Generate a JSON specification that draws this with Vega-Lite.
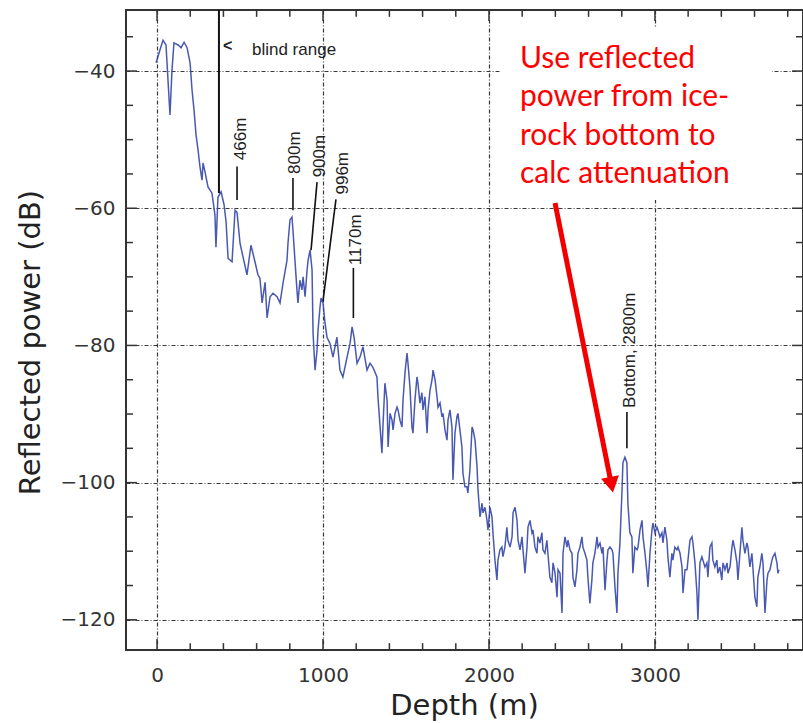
{
  "$schema": "https://vega.github.io/schema/vega-lite/v6.json",
  "width": 677,
  "height": 640,
  "autosize": {"type": "none"},
  "padding": {"left": 126, "top": 10, "right": 0, "bottom": 73},
  "background": "white",
  "config": {
    "view": {"stroke": "#333", "strokeWidth": 2},
    "axis": {"domain": false, "ticks": false, "labelFlush": false, "labelOverlap": false}
  },
  "datasets": {
    "trace": [
      {"d": -6, "p": -38.8}, {"d": 18, "p": -36.9}, {"d": 36, "p": -35.5}, {"d": 54, "p": -36.2}, {"d": 66, "p": -41.3},
      {"d": 78, "p": -46.4}, {"d": 90, "p": -39.9}, {"d": 102, "p": -35.9}, {"d": 127, "p": -36.2}, {"d": 145, "p": -36.6},
      {"d": 163, "p": -35.8}, {"d": 181, "p": -36.6}, {"d": 199, "p": -38.8}, {"d": 211, "p": -42.8}, {"d": 223, "p": -45.7},
      {"d": 235, "p": -49.3}, {"d": 247, "p": -51.5}, {"d": 259, "p": -54.0}, {"d": 271, "p": -55.9}, {"d": 277, "p": -53.4},
      {"d": 289, "p": -54.7}, {"d": 307, "p": -56.9}, {"d": 331, "p": -57.8}, {"d": 349, "p": -61.0}, {"d": 355, "p": -65.7},
      {"d": 367, "p": -58.4}, {"d": 386, "p": -57.6}, {"d": 404, "p": -59.5}, {"d": 416, "p": -62.0}, {"d": 428, "p": -67.3},
      {"d": 452, "p": -67.8}, {"d": 470, "p": -60.3}, {"d": 482, "p": -60.6}, {"d": 500, "p": -65.1}, {"d": 518, "p": -67.1},
      {"d": 542, "p": -69.7}, {"d": 566, "p": -65.4}, {"d": 590, "p": -67.8}, {"d": 608, "p": -69.7}, {"d": 620, "p": -70.2},
      {"d": 633, "p": -73.8}, {"d": 651, "p": -70.8}, {"d": 663, "p": -76.0}, {"d": 681, "p": -72.9}, {"d": 699, "p": -72.4},
      {"d": 723, "p": -72.9}, {"d": 741, "p": -73.8}, {"d": 753, "p": -71.9}, {"d": 759, "p": -70.9}, {"d": 783, "p": -67.6},
      {"d": 789, "p": -65.1}, {"d": 801, "p": -61.7}, {"d": 813, "p": -61.3}, {"d": 819, "p": -63.2}, {"d": 831, "p": -67.6},
      {"d": 843, "p": -71.9}, {"d": 849, "p": -73.8}, {"d": 861, "p": -70.5}, {"d": 873, "p": -71.9}, {"d": 880, "p": -70.0},
      {"d": 892, "p": -72.9}, {"d": 904, "p": -69.0}, {"d": 910, "p": -67.6}, {"d": 922, "p": -66.1}, {"d": 934, "p": -69.0},
      {"d": 940, "p": -78.2}, {"d": 952, "p": -83.6}, {"d": 964, "p": -80.7}, {"d": 970, "p": -77.8}, {"d": 982, "p": -74.4},
      {"d": 988, "p": -73.1}, {"d": 1000, "p": -73.8}, {"d": 1012, "p": -76.7}, {"d": 1024, "p": -78.8}, {"d": 1042, "p": -79.7},
      {"d": 1060, "p": -81.7}, {"d": 1084, "p": -78.8}, {"d": 1102, "p": -83.6}, {"d": 1120, "p": -84.6}, {"d": 1145, "p": -81.7},
      {"d": 1163, "p": -79.7}, {"d": 1175, "p": -77.3}, {"d": 1187, "p": -78.8}, {"d": 1205, "p": -82.6}, {"d": 1223, "p": -81.7},
      {"d": 1241, "p": -80.2}, {"d": 1265, "p": -83.6}, {"d": 1283, "p": -82.6}, {"d": 1301, "p": -83.2}, {"d": 1325, "p": -84.6},
      {"d": 1331, "p": -87.5}, {"d": 1355, "p": -95.7}, {"d": 1361, "p": -91.9}, {"d": 1373, "p": -85.5}, {"d": 1386, "p": -88.0},
      {"d": 1392, "p": -94.8}, {"d": 1404, "p": -89.9}, {"d": 1416, "p": -90.9}, {"d": 1422, "p": -92.3}, {"d": 1434, "p": -89.9},
      {"d": 1446, "p": -89.0}, {"d": 1452, "p": -89.4}, {"d": 1464, "p": -90.9}, {"d": 1476, "p": -91.9}, {"d": 1482, "p": -88.0},
      {"d": 1494, "p": -84.0}, {"d": 1506, "p": -81.1}, {"d": 1512, "p": -82.6}, {"d": 1524, "p": -86.1}, {"d": 1536, "p": -91.9},
      {"d": 1542, "p": -92.8}, {"d": 1554, "p": -88.0}, {"d": 1566, "p": -84.6}, {"d": 1572, "p": -85.5}, {"d": 1584, "p": -88.4},
      {"d": 1596, "p": -86.9}, {"d": 1602, "p": -89.4}, {"d": 1614, "p": -87.5}, {"d": 1627, "p": -92.8}, {"d": 1633, "p": -89.4},
      {"d": 1645, "p": -86.5}, {"d": 1657, "p": -85.0}, {"d": 1663, "p": -83.6}, {"d": 1675, "p": -85.0}, {"d": 1687, "p": -87.5},
      {"d": 1693, "p": -89.0}, {"d": 1705, "p": -88.4}, {"d": 1717, "p": -90.4}, {"d": 1723, "p": -89.9}, {"d": 1735, "p": -92.3},
      {"d": 1747, "p": -93.8}, {"d": 1753, "p": -90.9}, {"d": 1765, "p": -89.4}, {"d": 1777, "p": -91.9}, {"d": 1783, "p": -99.6},
      {"d": 1795, "p": -92.8}, {"d": 1807, "p": -90.4}, {"d": 1813, "p": -89.9}, {"d": 1825, "p": -92.3}, {"d": 1837, "p": -94.8},
      {"d": 1843, "p": -98.6}, {"d": 1855, "p": -100.6}, {"d": 1867, "p": -100.6}, {"d": 1873, "p": -101.5}, {"d": 1885, "p": -98.2},
      {"d": 1898, "p": -91.9}, {"d": 1904, "p": -92.3}, {"d": 1916, "p": -93.8}, {"d": 1928, "p": -97.7}, {"d": 1934, "p": -101.1},
      {"d": 1946, "p": -105.0}, {"d": 1958, "p": -103.0}, {"d": 1964, "p": -104.4}, {"d": 1976, "p": -103.6}, {"d": 1988, "p": -105.5},
      {"d": 1994, "p": -106.9}, {"d": 2006, "p": -103.6}, {"d": 2018, "p": -105.0}, {"d": 2024, "p": -107.3}, {"d": 2036, "p": -111.3},
      {"d": 2048, "p": -114.2}, {"d": 2054, "p": -111.3}, {"d": 2066, "p": -109.8}, {"d": 2078, "p": -109.4}, {"d": 2084, "p": -110.8},
      {"d": 2096, "p": -109.4}, {"d": 2108, "p": -106.5}, {"d": 2114, "p": -108.4}, {"d": 2127, "p": -109.4}, {"d": 2139, "p": -107.9},
      {"d": 2145, "p": -104.4}, {"d": 2157, "p": -103.6}, {"d": 2169, "p": -105.5}, {"d": 2175, "p": -108.4}, {"d": 2187, "p": -109.8},
      {"d": 2199, "p": -107.9}, {"d": 2205, "p": -109.8}, {"d": 2217, "p": -113.2}, {"d": 2229, "p": -109.4}, {"d": 2235, "p": -106.5},
      {"d": 2247, "p": -105.5}, {"d": 2259, "p": -107.3}, {"d": 2265, "p": -106.9}, {"d": 2277, "p": -109.4}, {"d": 2289, "p": -110.3},
      {"d": 2295, "p": -107.9}, {"d": 2307, "p": -108.8}, {"d": 2319, "p": -107.3}, {"d": 2325, "p": -109.8}, {"d": 2337, "p": -110.3},
      {"d": 2349, "p": -108.4}, {"d": 2355, "p": -110.3}, {"d": 2367, "p": -113.8}, {"d": 2379, "p": -114.6}, {"d": 2386, "p": -111.7},
      {"d": 2398, "p": -113.2}, {"d": 2410, "p": -116.7}, {"d": 2416, "p": -112.7}, {"d": 2428, "p": -113.2}, {"d": 2440, "p": -119.0},
      {"d": 2446, "p": -110.3}, {"d": 2458, "p": -107.9}, {"d": 2470, "p": -109.4}, {"d": 2476, "p": -108.4}, {"d": 2488, "p": -109.8},
      {"d": 2500, "p": -110.3}, {"d": 2506, "p": -113.8}, {"d": 2518, "p": -115.2}, {"d": 2530, "p": -112.7}, {"d": 2536, "p": -110.3},
      {"d": 2548, "p": -109.4}, {"d": 2560, "p": -107.9}, {"d": 2566, "p": -109.4}, {"d": 2578, "p": -110.3}, {"d": 2590, "p": -111.3},
      {"d": 2596, "p": -113.8}, {"d": 2608, "p": -117.6}, {"d": 2620, "p": -114.2}, {"d": 2626, "p": -111.7}, {"d": 2638, "p": -110.3},
      {"d": 2651, "p": -107.9}, {"d": 2657, "p": -109.4}, {"d": 2669, "p": -108.8}, {"d": 2681, "p": -110.3}, {"d": 2687, "p": -109.4},
      {"d": 2699, "p": -115.7}, {"d": 2711, "p": -111.3}, {"d": 2717, "p": -109.8}, {"d": 2729, "p": -109.4}, {"d": 2741, "p": -109.8},
      {"d": 2747, "p": -110.3}, {"d": 2759, "p": -115.2}, {"d": 2771, "p": -119.0}, {"d": 2777, "p": -113.2}, {"d": 2789, "p": -108.8},
      {"d": 2801, "p": -101.5}, {"d": 2807, "p": -97.1}, {"d": 2819, "p": -96.3}, {"d": 2831, "p": -97.1}, {"d": 2837, "p": -103.0},
      {"d": 2849, "p": -107.3}, {"d": 2861, "p": -107.9}, {"d": 2867, "p": -113.2}, {"d": 2879, "p": -109.4}, {"d": 2892, "p": -109.8},
      {"d": 2898, "p": -109.4}, {"d": 2910, "p": -106.9}, {"d": 2922, "p": -105.5}, {"d": 2928, "p": -107.9}, {"d": 2940, "p": -110.3},
      {"d": 2952, "p": -113.2}, {"d": 2958, "p": -115.2}, {"d": 2970, "p": -110.3}, {"d": 2982, "p": -106.9}, {"d": 2988, "p": -105.9},
      {"d": 3000, "p": -107.3}, {"d": 3012, "p": -106.5}, {"d": 3018, "p": -106.9}, {"d": 3030, "p": -107.9}, {"d": 3042, "p": -107.3},
      {"d": 3048, "p": -108.8}, {"d": 3060, "p": -106.5}, {"d": 3072, "p": -108.4}, {"d": 3078, "p": -110.8}, {"d": 3090, "p": -113.8},
      {"d": 3102, "p": -110.3}, {"d": 3108, "p": -111.3}, {"d": 3120, "p": -109.4}, {"d": 3132, "p": -109.8}, {"d": 3139, "p": -109.4},
      {"d": 3151, "p": -110.3}, {"d": 3163, "p": -112.3}, {"d": 3169, "p": -116.1}, {"d": 3181, "p": -112.7}, {"d": 3193, "p": -112.7},
      {"d": 3199, "p": -111.3}, {"d": 3211, "p": -108.4}, {"d": 3223, "p": -107.9}, {"d": 3229, "p": -108.8}, {"d": 3241, "p": -111.7},
      {"d": 3253, "p": -116.1}, {"d": 3259, "p": -120.0}, {"d": 3271, "p": -111.7}, {"d": 3283, "p": -110.8}, {"d": 3289, "p": -111.3},
      {"d": 3301, "p": -112.3}, {"d": 3313, "p": -111.7}, {"d": 3319, "p": -113.8}, {"d": 3331, "p": -109.4}, {"d": 3343, "p": -108.8},
      {"d": 3349, "p": -111.3}, {"d": 3361, "p": -112.3}, {"d": 3373, "p": -111.3}, {"d": 3379, "p": -113.2}, {"d": 3391, "p": -112.3},
      {"d": 3403, "p": -114.2}, {"d": 3410, "p": -111.7}, {"d": 3422, "p": -112.7}, {"d": 3434, "p": -111.7}, {"d": 3440, "p": -113.2},
      {"d": 3452, "p": -112.3}, {"d": 3464, "p": -109.4}, {"d": 3470, "p": -108.4}, {"d": 3482, "p": -109.8}, {"d": 3494, "p": -111.7},
      {"d": 3500, "p": -114.2}, {"d": 3512, "p": -110.3}, {"d": 3524, "p": -106.5}, {"d": 3530, "p": -108.4}, {"d": 3542, "p": -110.3},
      {"d": 3554, "p": -108.8}, {"d": 3560, "p": -109.4}, {"d": 3572, "p": -112.3}, {"d": 3584, "p": -110.3}, {"d": 3590, "p": -112.3},
      {"d": 3602, "p": -116.7}, {"d": 3614, "p": -118.1}, {"d": 3620, "p": -113.8}, {"d": 3632, "p": -112.3}, {"d": 3644, "p": -110.3},
      {"d": 3651, "p": -111.7}, {"d": 3663, "p": -119.0}, {"d": 3675, "p": -114.2}, {"d": 3681, "p": -113.2}, {"d": 3693, "p": -112.7},
      {"d": 3705, "p": -111.3}, {"d": 3711, "p": -110.8}, {"d": 3723, "p": -110.3}, {"d": 3735, "p": -111.7}, {"d": 3741, "p": -113.2},
      {"d": 3747, "p": -112.7}
    ],
    "frameTicks": [
      {"d": 0, "d2": 0, "p": -124.4, "p2": -122.8}, {"d": 200, "d2": 200, "p": -124.4, "p2": -123.4}, {"d": 400, "d2": 400, "p": -124.4, "p2": -123.4},
      {"d": 600, "d2": 600, "p": -124.4, "p2": -123.4}, {"d": 800, "d2": 800, "p": -124.4, "p2": -123.4}, {"d": 1000, "d2": 1000, "p": -124.4, "p2": -122.8},
      {"d": 1200, "d2": 1200, "p": -124.4, "p2": -123.4}, {"d": 1400, "d2": 1400, "p": -124.4, "p2": -123.4}, {"d": 1600, "d2": 1600, "p": -124.4, "p2": -123.4},
      {"d": 1800, "d2": 1800, "p": -124.4, "p2": -123.4}, {"d": 2000, "d2": 2000, "p": -124.4, "p2": -122.8}, {"d": 2200, "d2": 2200, "p": -124.4, "p2": -123.4},
      {"d": 2400, "d2": 2400, "p": -124.4, "p2": -123.4}, {"d": 2600, "d2": 2600, "p": -124.4, "p2": -123.4}, {"d": 2800, "d2": 2800, "p": -124.4, "p2": -123.4},
      {"d": 3000, "d2": 3000, "p": -124.4, "p2": -122.8}, {"d": 3200, "d2": 3200, "p": -124.4, "p2": -123.4}, {"d": 3400, "d2": 3400, "p": -124.4, "p2": -123.4},
      {"d": 3600, "d2": 3600, "p": -124.4, "p2": -123.4}, {"d": 3800, "d2": 3800, "p": -124.4, "p2": -123.4},
      {"d": 0, "d2": 0, "p": -31.1, "p2": -32.7}, {"d": 200, "d2": 200, "p": -31.1, "p2": -32.1}, {"d": 400, "d2": 400, "p": -31.1, "p2": -32.1},
      {"d": 600, "d2": 600, "p": -31.1, "p2": -32.1}, {"d": 800, "d2": 800, "p": -31.1, "p2": -32.1}, {"d": 1000, "d2": 1000, "p": -31.1, "p2": -32.7},
      {"d": 1200, "d2": 1200, "p": -31.1, "p2": -32.1}, {"d": 1400, "d2": 1400, "p": -31.1, "p2": -32.1}, {"d": 1600, "d2": 1600, "p": -31.1, "p2": -32.1},
      {"d": 1800, "d2": 1800, "p": -31.1, "p2": -32.1}, {"d": 2000, "d2": 2000, "p": -31.1, "p2": -32.7}, {"d": 2200, "d2": 2200, "p": -31.1, "p2": -32.1},
      {"d": 2400, "d2": 2400, "p": -31.1, "p2": -32.1}, {"d": 2600, "d2": 2600, "p": -31.1, "p2": -32.1}, {"d": 2800, "d2": 2800, "p": -31.1, "p2": -32.1},
      {"d": 3000, "d2": 3000, "p": -31.1, "p2": -32.7}, {"d": 3200, "d2": 3200, "p": -31.1, "p2": -32.1}, {"d": 3400, "d2": 3400, "p": -31.1, "p2": -32.1},
      {"d": 3600, "d2": 3600, "p": -31.1, "p2": -32.1}, {"d": 3800, "d2": 3800, "p": -31.1, "p2": -32.1},
      {"d": -187, "d2": -121, "p": -120, "p2": -120}, {"d": -187, "d2": -145, "p": -115, "p2": -115}, {"d": -187, "d2": -145, "p": -110, "p2": -110},
      {"d": -187, "d2": -145, "p": -105, "p2": -105}, {"d": -187, "d2": -121, "p": -100, "p2": -100}, {"d": -187, "d2": -145, "p": -95, "p2": -95},
      {"d": -187, "d2": -145, "p": -90, "p2": -90}, {"d": -187, "d2": -145, "p": -85, "p2": -85}, {"d": -187, "d2": -121, "p": -80, "p2": -80},
      {"d": -187, "d2": -145, "p": -75, "p2": -75}, {"d": -187, "d2": -145, "p": -70, "p2": -70}, {"d": -187, "d2": -145, "p": -65, "p2": -65},
      {"d": -187, "d2": -121, "p": -60, "p2": -60}, {"d": -187, "d2": -145, "p": -55, "p2": -55}, {"d": -187, "d2": -145, "p": -50, "p2": -50},
      {"d": -187, "d2": -145, "p": -45, "p2": -45}, {"d": -187, "d2": -121, "p": -40, "p2": -40}, {"d": -187, "d2": -145, "p": -35, "p2": -35},
      {"d": 3892, "d2": 3826, "p": -120, "p2": -120}, {"d": 3892, "d2": 3850, "p": -115, "p2": -115}, {"d": 3892, "d2": 3850, "p": -110, "p2": -110},
      {"d": 3892, "d2": 3850, "p": -105, "p2": -105}, {"d": 3892, "d2": 3826, "p": -100, "p2": -100}, {"d": 3892, "d2": 3850, "p": -95, "p2": -95},
      {"d": 3892, "d2": 3850, "p": -90, "p2": -90}, {"d": 3892, "d2": 3850, "p": -85, "p2": -85}, {"d": 3892, "d2": 3826, "p": -80, "p2": -80},
      {"d": 3892, "d2": 3850, "p": -75, "p2": -75}, {"d": 3892, "d2": 3850, "p": -70, "p2": -70}, {"d": 3892, "d2": 3850, "p": -65, "p2": -65},
      {"d": 3892, "d2": 3826, "p": -60, "p2": -60}, {"d": 3892, "d2": 3850, "p": -55, "p2": -55}, {"d": 3892, "d2": 3850, "p": -50, "p2": -50},
      {"d": 3892, "d2": 3850, "p": -45, "p2": -45}, {"d": 3892, "d2": 3826, "p": -40, "p2": -40}, {"d": 3892, "d2": 3850, "p": -35, "p2": -35}
    ],
    "leaders": [
      {"d": 373, "p": -31.1, "d2": 373, "p2": -57.8, "w": 2},
      {"d": 482, "p": -53.9, "d2": 482, "p2": -58.8, "w": 1.6},
      {"d": 819, "p": -55.6, "d2": 819, "p2": -60.3, "w": 1.6},
      {"d": 964, "p": -56.2, "d2": 928, "p2": -66.1, "w": 1.6},
      {"d": 1078, "p": -58.7, "d2": 1000, "p2": -73.5, "w": 1.6},
      {"d": 1183, "p": -68.7, "d2": 1183, "p2": -76.0, "w": 1.6},
      {"d": 2831, "p": -89.7, "d2": 2831, "p2": -95.0, "w": 1.6}
    ],
    "peakLabels": [
      {"d": 506, "p": -49.9, "label": "466m"},
      {"d": 831, "p": -51.9, "label": "800m"},
      {"d": 982, "p": -52.4, "label": "900m"},
      {"d": 1120, "p": -54.9, "label": "996m"},
      {"d": 1196, "p": -64.6, "label": "1170m"},
      {"d": 2849, "p": -80.7, "label": "Bottom, 2800m"}
    ],
    "note": [
      {"d": 2187, "p": -39.56, "line": "Use reflected"},
      {"d": 2187, "p": -45.16, "line": "power from ice-"},
      {"d": 2187, "p": -50.76, "line": "rock bottom to"},
      {"d": 2187, "p": -56.36, "line": "calc attenuation"}
    ]
  },
  "layer": [
    {
      "data": {"name": "trace"},
      "mark": {"type": "line", "color": "#3a4bab", "strokeWidth": 1.5, "opacity": 0.92, "clip": true},
      "encoding": {
        "x": {
          "field": "d", "type": "quantitative",
          "scale": {"domain": [-187, 3892], "nice": false, "zero": false},
          "axis": {
            "orient": "bottom", "values": [0, 1000, 2000, 3000], "format": "d", "labelPadding": 15,
            "labelFont": "DejaVu Sans", "labelFontSize": 20, "labelColor": "#333",
            "grid": true, "gridDash": [4, 2, 1, 2], "gridColor": "#222", "gridWidth": 1.2, "gridOpacity": 0.9,
            "title": "Depth (m)", "titleFont": "DejaVu Sans", "titleFontSize": 29, "titleFontWeight": "normal",
            "titleColor": "#222", "titleX": 338, "titleY": 55, "titleBaseline": "middle", "titleAlign": "center"
          }
        },
        "y": {
          "field": "p", "type": "quantitative",
          "scale": {"domain": [-124.4, -31.1], "nice": false, "zero": false},
          "axis": {
            "orient": "left", "values": [-120, -100, -80, -60, -40], "format": "d", "labelPadding": 11,
            "labelFont": "DejaVu Sans", "labelFontSize": 20, "labelColor": "#333",
            "grid": true, "gridDash": [4, 2, 1, 2], "gridColor": "#222", "gridWidth": 1.2, "gridOpacity": 0.9,
            "title": "Reflected power (dB)", "titleFont": "DejaVu Sans", "titleFontSize": 29, "titleFontWeight": "normal",
            "titleColor": "#222", "titleX": -96, "titleY": 332, "titleBaseline": "middle", "titleAlign": "center", "titleAngle": 270
          }
        }
      }
    },
    {
      "data": {"name": "frameTicks"},
      "mark": {"type": "rule", "color": "#333", "strokeWidth": 1.5},
      "encoding": {
        "x": {"field": "d", "type": "quantitative"},
        "x2": {"field": "d2"},
        "y": {"field": "p", "type": "quantitative"},
        "y2": {"field": "p2"}
      }
    },
    {
      "data": {"values": [{"d": 2066, "d2": 3705, "p": -33.7, "p2": -58.8}]},
      "mark": {"type": "rect", "fill": "white", "stroke": null},
      "encoding": {
        "x": {"field": "d", "type": "quantitative"},
        "x2": {"field": "d2"},
        "y": {"field": "p", "type": "quantitative"},
        "y2": {"field": "p2"}
      }
    },
    {
      "data": {"name": "leaders"},
      "mark": {"type": "rule", "color": "#111"},
      "encoding": {
        "x": {"field": "d", "type": "quantitative"},
        "x2": {"field": "d2"},
        "y": {"field": "p", "type": "quantitative"},
        "y2": {"field": "p2"},
        "strokeWidth": {"field": "w", "type": "quantitative", "scale": null}
      }
    },
    {
      "data": {"name": "peakLabels"},
      "mark": {"type": "text", "angle": 270, "align": "center", "baseline": "middle", "font": "Liberation Sans", "fontSize": 17, "color": "#222"},
      "encoding": {
        "x": {"field": "d", "type": "quantitative"},
        "y": {"field": "p", "type": "quantitative"},
        "text": {"field": "label"}
      }
    },
    {
      "data": {"values": [{"d": 398, "p": -36.3, "t": "<"}]},
      "mark": {"type": "text", "align": "left", "baseline": "middle", "font": "Liberation Sans", "fontSize": 16, "fontWeight": "bold", "color": "#222"},
      "encoding": {
        "x": {"field": "d", "type": "quantitative"},
        "y": {"field": "p", "type": "quantitative"},
        "text": {"field": "t"}
      }
    },
    {
      "data": {"values": [{"d": 572, "p": -37.0, "t": "blind range"}]},
      "mark": {"type": "text", "align": "left", "baseline": "middle", "font": "Liberation Sans", "fontSize": 17, "color": "#222"},
      "encoding": {
        "x": {"field": "d", "type": "quantitative"},
        "y": {"field": "p", "type": "quantitative"},
        "text": {"field": "t"}
      }
    },
    {
      "data": {"values": [{"d": 2398, "p": -59.24, "d2": 2738, "p2": -100.3}]},
      "mark": {"type": "rule", "color": "#f20000", "strokeWidth": 5},
      "encoding": {
        "x": {"field": "d", "type": "quantitative"},
        "x2": {"field": "d2"},
        "y": {"field": "p", "type": "quantitative"},
        "y2": {"field": "p2"}
      }
    },
    {
      "data": {"values": [{"d": 2738, "p": -100.3}]},
      "mark": {"type": "point", "shape": "triangle-down", "filled": true, "color": "#f20000", "size": 330, "angle": 349, "opacity": 1},
      "encoding": {
        "x": {"field": "d", "type": "quantitative"},
        "y": {"field": "p", "type": "quantitative"}
      }
    },
    {
      "data": {"name": "note"},
      "mark": {"type": "text", "align": "left", "baseline": "alphabetic", "font": "Lato", "fontSize": 30, "color": "#ff0000"},
      "encoding": {
        "x": {"field": "d", "type": "quantitative"},
        "y": {"field": "p", "type": "quantitative"},
        "text": {"field": "line"}
      }
    }
  ]
}
